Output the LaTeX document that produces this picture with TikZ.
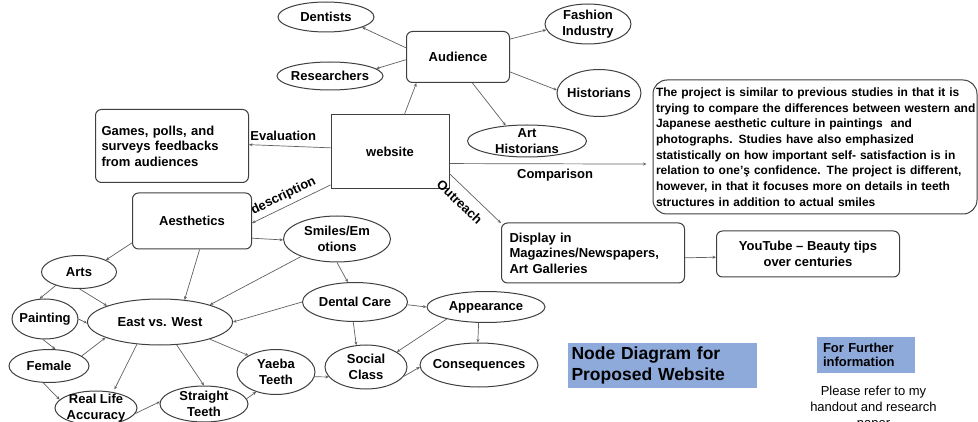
\documentclass[tikz,border=0pt]{standalone}
\usepackage{fontspec}
\setmainfont{Liberation Sans}
\usetikzlibrary{shapes.geometric,arrows.meta}
\definecolor{ink}{HTML}{3F3F3F}
\definecolor{wire}{HTML}{606060}
\definecolor{titleblue}{HTML}{8EAADB}
\newcommand\lblfont{\fontsize{13}{15.5}\selectfont\bfseries}
\newcommand\smallbold{\fontsize{12}{15.7}\selectfont\bfseries}
\newcommand\titlefont{\fontsize{17.5}{21}\selectfont\bfseries}
\newcommand\plainfont{\fontsize{13}{16}\selectfont}
\tikzset{
  ell/.style={ellipse, draw=ink, line width=1pt, inner sep=-8pt, font=\lblfont, align=center},
  rbox/.style={rectangle, rounded corners=6pt, draw=ink, line width=1pt, font=\lblfont},
  conn/.style={draw=wire, line width=0.7pt, -{Stealth[length=3.5pt,width=3pt]}},
  lab/.style={font=\lblfont, inner sep=1.5pt, text=black}
}
\begin{document}
\begin{tikzpicture}[x=1pt,y=-1pt]
\useasboundingbox (0,0) rectangle (978,422);
\clip (0,0) rectangle (978,422);

% audience branch
\node[ell, minimum width=96pt, minimum height=30pt] (dent) at (326,17) {Dentists};
\node[ell, minimum width=106pt, minimum height=28pt] (res) at (330,76) {Researchers};
\node[rbox, minimum width=103pt, minimum height=51pt] (aud) at (458,57) {Audience};
\node[ell, minimum width=86pt, minimum height=40pt] (fash) at (588,24) {Fashion\\Industry};
\node[ell, minimum width=84pt, minimum height=47pt] (hist) at (599,93) {Historians};
\node[ell, minimum width=119pt, minimum height=32pt] (arth) at (527,141) {Art\\Historians};

% central page and its outputs
\node[rectangle, draw=ink, line width=1pt, minimum width=118pt, minimum height=74pt, font=\lblfont] (web) at (390,152) {website};
\node[rbox, minimum width=153pt, minimum height=73pt, text width=141pt, inner xsep=6pt, align=left] (games) at (172,146) {Games, polls, and\\surveys feedbacks\\from audiences};
\node[rbox, minimum width=119pt, minimum height=56pt] (aes) at (192,221) {Aesthetics};
\node[rbox, rounded corners=14pt, minimum height=134pt, text width=318pt, inner xsep=3pt, align=left, font=\smallbold] (comp) at (815,147) {\mbox{The project is similar to previous studies in that it is}\\\mbox{trying to compare the differences between western and}\\\mbox{Japanese aesthetic culture in paintings~ and}\\\mbox{photographs. Studies have also emphasized}\\\mbox{statistically on how important self- satisfaction is in}\\\mbox{relation to one’ş confidence. The project is different,}\\\mbox{however, in that it focuses more on details in teeth}\\\mbox{structures in addition to actual smiles}};
\node[rbox, minimum height=60pt, text width=167pt, inner xsep=8pt, align=left] (disp) at (593,253) {Display in\\Magazines/Newspapers,\\Art Galleries};
\node[rbox, minimum width=183pt, minimum height=46pt, align=center] (yt) at (808,254) {YouTube – Beauty tips\\over centuries};

% aesthetics network
\node[ell, minimum width=75pt, minimum height=33pt] (arts) at (79,272) {Arts};
\node[ell, minimum width=66pt, minimum height=40pt] (paint) at (45,319) {Painting};
\node[ell, minimum width=145pt, minimum height=46pt] (ew) at (160,322) {East vs. West};
\node[ell, minimum width=80pt, minimum height=33pt] (fem) at (49,366) {Female};
\node[ell, minimum width=82pt, minimum height=34pt] (rla) at (96,408) {Real Life\\Accuracy};
\node[ell, minimum width=88pt, minimum height=36pt] (st) at (204,404) {Straight\\Teeth};
\node[ell, minimum width=78pt, minimum height=45pt] (yaeba) at (276,372) {Yaeba\\Teeth};
\node[ell, minimum width=107pt, minimum height=46pt] (smile) at (337,239) {Smiles/Em\\otions};
\node[ell, minimum width=105pt, minimum height=39pt] (dental) at (355,302) {Dental Care};
\node[ell, minimum width=118pt, minimum height=31pt] (appear) at (486,307) {Appearance};
\node[ell, minimum width=82pt, minimum height=44pt] (social) at (366,367) {Social\\Class};
\node[ell, minimum width=118pt, minimum height=44pt] (cons) at (479,365) {Consequences};

% captions
\node[fill=titleblue, minimum width=189pt, minimum height=45pt, text width=181pt, inner xsep=4pt, align=left, font=\titlefont] (title) at (662,365) {Node Diagram for\\Proposed Website};
\node[fill=titleblue, minimum width=98pt, minimum height=36pt, text width=86pt, inner xsep=6pt, inner ysep=2pt, align=left, font=\fontsize{13}{14.5}\selectfont\bfseries] (further) at (866,355) {For Further\\information};
\node[align=center, font=\plainfont] (refer) at (873.5,408) {Please refer to my\\handout and research\\paper};

% connectors around the website
\draw[conn] (web.69) -- (aud.212);
\draw[conn] (aud.170) -- (dent.-16);
\draw[conn] (aud.183) -- (res.9);
\draw[conn] (aud.19) -- (fash.188);
\draw[conn] (aud.-16) -- (hist.176);
\draw[conn] (aud.-61) -- (arth.144);
\draw[conn] (web.176) -- node[lab, above=4pt, pos=0.58] {Evaluation} (games.1);
\draw[conn] (web.209) -- node[lab, above=2.5pt, sloped, pos=0.54] {description} (aes.-2);
\draw[conn, shorten >=6pt] (web.-11.5) -- node[lab, below=3pt, pos=0.52] {Comparison} (comp.186);
\draw[conn] (web.-20) -- node[lab, below=7pt, sloped, pos=0.38] {Outreach} (disp.162);
\draw[conn] (disp.-3) -- (yt.182);

% connectors of the aesthetics network
\draw[conn] (aes.200) -- (arts.24);
\draw[conn] (aes.-75) -- (ew.42);
\draw[conn] (aes.-16) -- (smile.181);
\draw[conn] (smile.206) -- (ew.19);
\draw[conn] (dental.180) -- (ew.0);
\draw[conn] (arts.210) -- (paint.105);
\draw[conn] (arts.272) -- (ew.163);
\draw[conn] (paint.0) -- (ew.181);
\draw[conn] (paint.264) -- (fem.69);
\draw[conn] (fem.17) -- (ew.196);
\draw[conn] (fem.251) -- (rla.167);
\draw[conn, shorten >=3pt] (ew.224) -- (rla.43);
\draw[conn] (ew.-54) -- (st.90);
\draw[conn] (ew.-19) -- (yaeba.149);
\draw[conn] (rla.-8) -- (st.177);
\draw[conn] (st.7) -- (yaeba.225);
\draw[conn] (yaeba.-7) -- (social.195);
\draw[conn] (smile.270) -- (dental.110);
\draw[conn] (dental.-3) -- (appear.180);
\draw[conn] (dental.265) -- (social.114);
\draw[conn] (appear.197) -- (social.26);
\draw[conn] (appear.245) -- (cons.93);
\draw[conn] (social.-14) -- (cons.182);
\end{tikzpicture}
\end{document}
